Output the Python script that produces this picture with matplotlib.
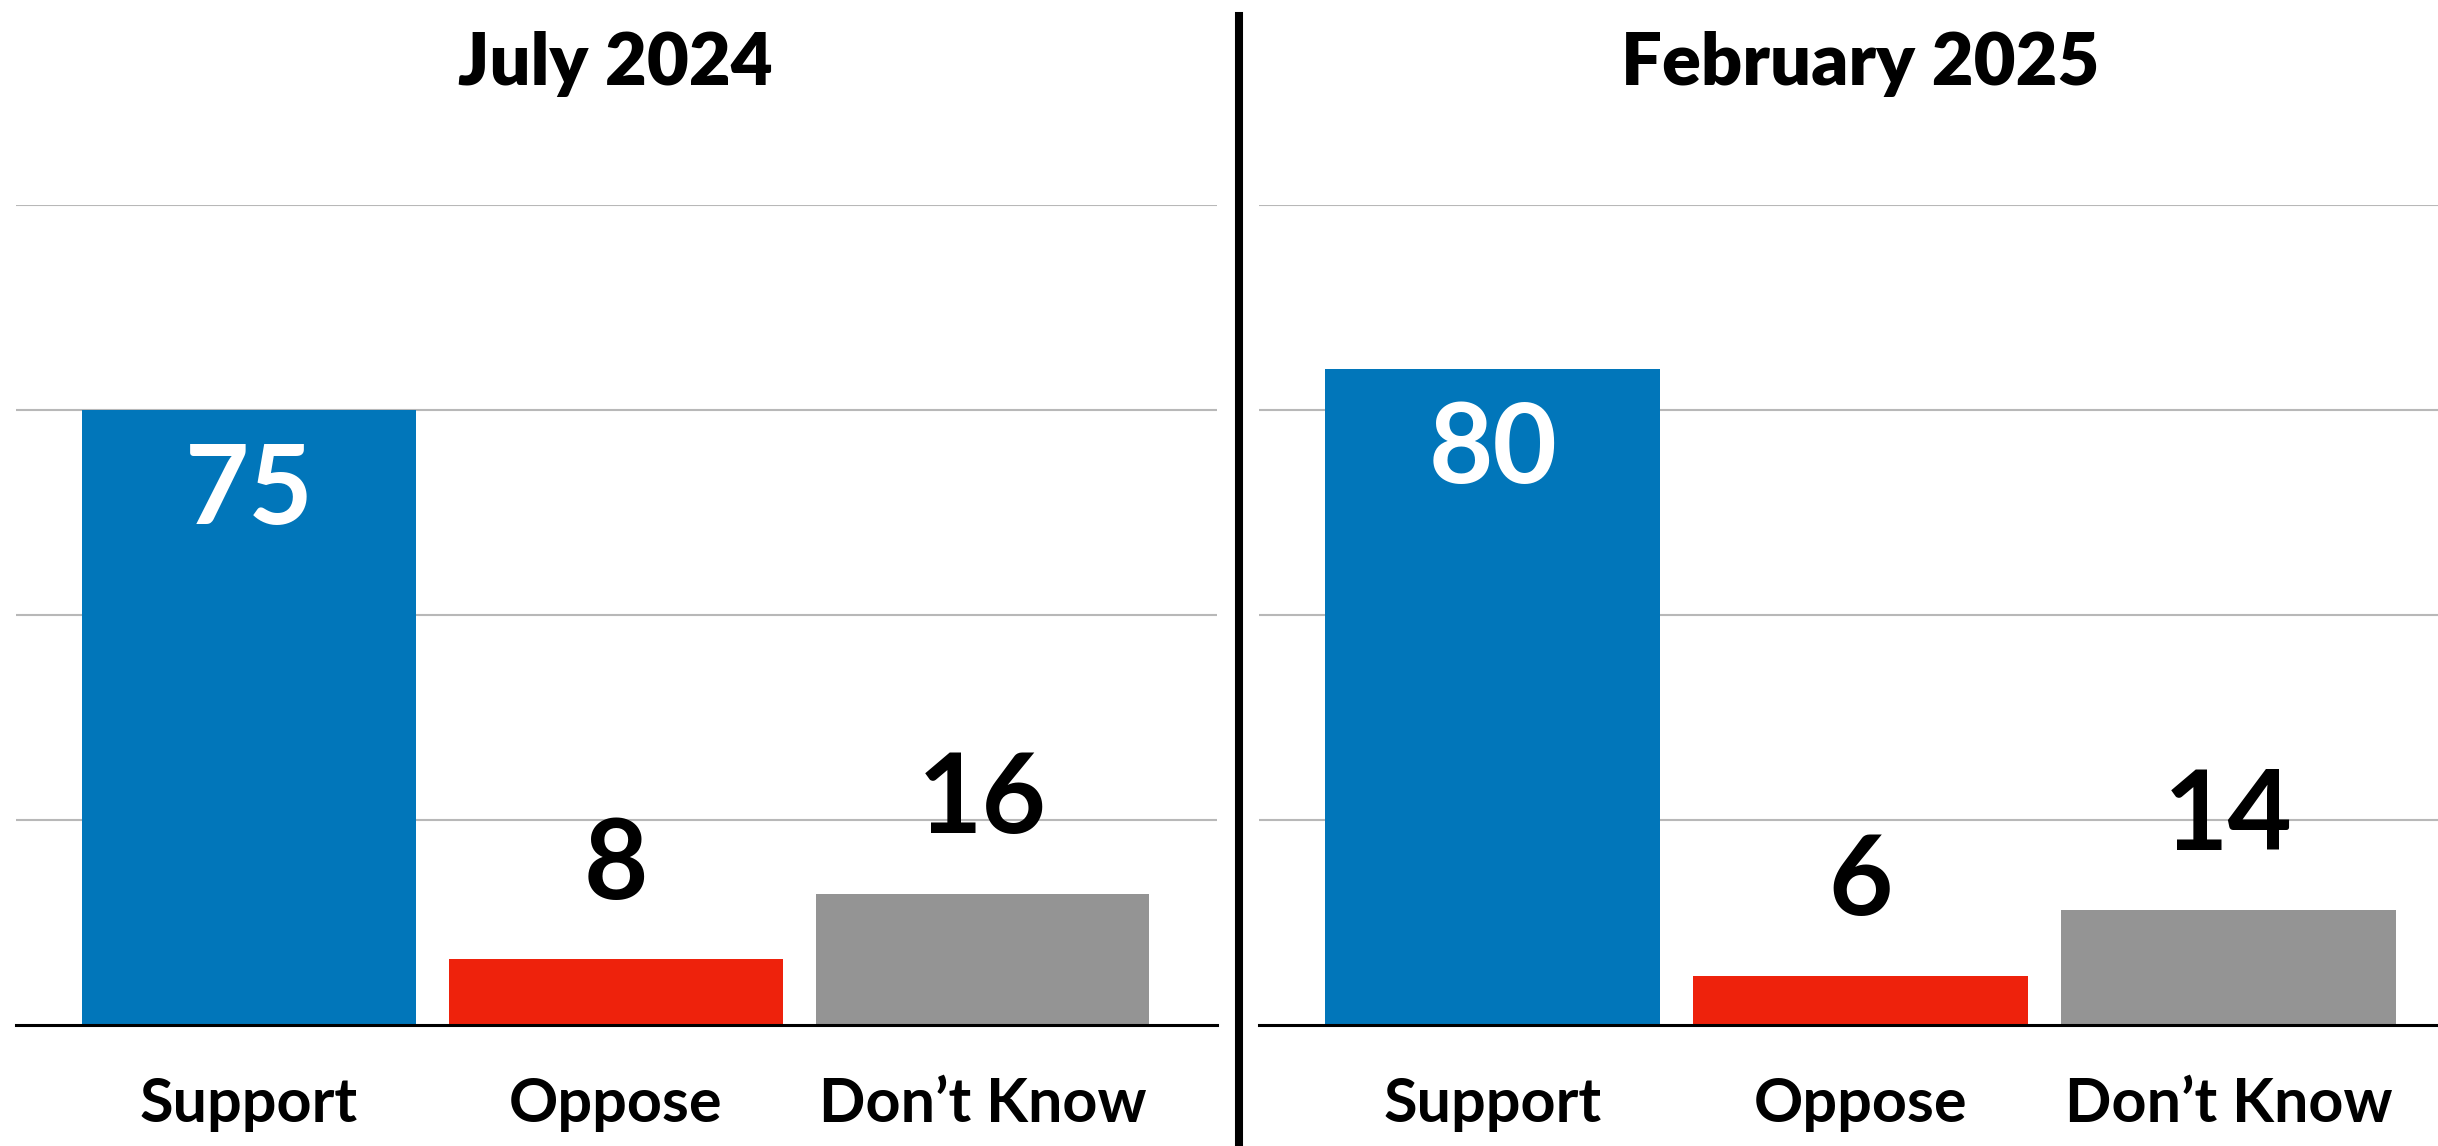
import matplotlib
matplotlib.use('Agg')
import matplotlib.pyplot as plt
from matplotlib.lines import Line2D

plt.rcParams['font.family'] = ['Lato', 'DejaVu Sans']

categories = ['Support', 'Oppose', 'Don\u2019t Know']
titles = ['July 2024', 'February 2025']
july_2024 = [75, 8, 16]
feb_2025 = [80, 6, 14]
bar_colors = ['#0176BA', '#EE220C', '#949494']

fig = plt.figure(figsize=(24.38, 11.46), dpi=100)
ax1 = fig.add_axes([0.0066, 0.1056, 0.4926, 0.7155])
ax2 = fig.add_axes([0.5164, 0.1056, 0.4836, 0.7155])

for ax, vals, title, xr in [(ax1, july_2024, titles[0], 2.64), (ax2, feb_2025, titles[1], 2.57)]:
    x = range(len(categories))
    ax.bar(x, vals, width=0.91, color=bar_colors, zorder=2)
    ax.set_ylim(0, 100)
    ax.set_xlim(-0.635, xr)
    ax.set_yticks([25, 50, 75, 100])
    ax.yaxis.grid(True, color='#B8B8B8', linewidth=1.5, zorder=0)
    ax.set_axisbelow(True)
    ax.tick_params(axis='y', left=False, labelleft=False)
    ax.tick_params(axis='x', length=0, pad=37)
    ax.set_xticks(list(x))
    ax.set_xticklabels(categories, fontsize=44, fontweight='bold')
    for s in ['top', 'right', 'left']:
        ax.spines[s].set_visible(False)
    ax.spines['bottom'].set_linewidth(2.2)
    ax.spines['bottom'].set_zorder(3)
    for i, v in enumerate(vals):
        if v > 40:
            ax.annotate(str(v), (i, v), xytext=(0, -22), textcoords='offset points',
                        ha='center', va='top', fontsize=80, color='white', fontweight='bold')
        else:
            ax.annotate(str(v), (i, v), xytext=(0, 30), textcoords='offset points',
                        ha='center', va='bottom', fontsize=80, color='black', fontweight='bold')
    pos = ax.get_position()
    fig.text(pos.x0 + pos.width * (0.635 + 1) / (xr + 0.635), 0.944, title, ha='center', va='center',
             fontsize=52, fontweight='heavy')

fig.add_artist(Line2D([0.5082, 0.5082], [0.0, 0.986], color='black', linewidth=5.8, transform=fig.transFigure))

fig.savefig('out.png', dpi=100)
